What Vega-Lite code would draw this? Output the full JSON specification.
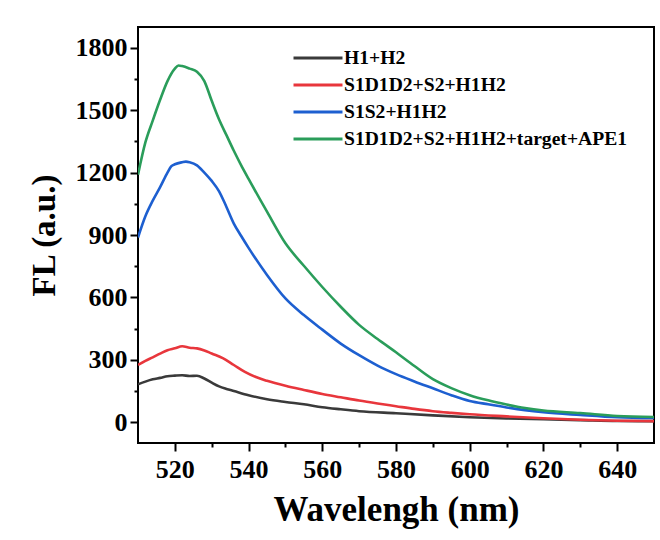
{
  "$schema": "https://vega.github.io/schema/vega-lite/v6.json",
  "autosize": "none",
  "width": 516,
  "height": 416,
  "padding": {"left": 138, "top": 27, "right": 6, "bottom": 97},
  "background": "white",
  "config": {
    "view": {"stroke": "black", "strokeWidth": 2},
    "font": "Liberation Serif"
  },
  "datasets": {
    "spectra": [
      {"series": "H1+H2", "wavelength": 510, "fl": 182},
      {"series": "H1+H2", "wavelength": 512, "fl": 195},
      {"series": "H1+H2", "wavelength": 514, "fl": 206},
      {"series": "H1+H2", "wavelength": 516, "fl": 213},
      {"series": "H1+H2", "wavelength": 518, "fl": 221},
      {"series": "H1+H2", "wavelength": 520, "fl": 224},
      {"series": "H1+H2", "wavelength": 522, "fl": 226},
      {"series": "H1+H2", "wavelength": 524, "fl": 222},
      {"series": "H1+H2", "wavelength": 526, "fl": 223},
      {"series": "H1+H2", "wavelength": 528, "fl": 210},
      {"series": "H1+H2", "wavelength": 530, "fl": 190},
      {"series": "H1+H2", "wavelength": 532, "fl": 172},
      {"series": "H1+H2", "wavelength": 534, "fl": 160},
      {"series": "H1+H2", "wavelength": 536, "fl": 150},
      {"series": "H1+H2", "wavelength": 540, "fl": 130},
      {"series": "H1+H2", "wavelength": 545, "fl": 110},
      {"series": "H1+H2", "wavelength": 550, "fl": 97},
      {"series": "H1+H2", "wavelength": 555, "fl": 86},
      {"series": "H1+H2", "wavelength": 560, "fl": 72},
      {"series": "H1+H2", "wavelength": 565, "fl": 62},
      {"series": "H1+H2", "wavelength": 570, "fl": 53},
      {"series": "H1+H2", "wavelength": 580, "fl": 43},
      {"series": "H1+H2", "wavelength": 590, "fl": 33},
      {"series": "H1+H2", "wavelength": 600, "fl": 24},
      {"series": "H1+H2", "wavelength": 610, "fl": 18},
      {"series": "H1+H2", "wavelength": 620, "fl": 14},
      {"series": "H1+H2", "wavelength": 630, "fl": 10},
      {"series": "H1+H2", "wavelength": 640, "fl": 6},
      {"series": "H1+H2", "wavelength": 650, "fl": 5},

      {"series": "S1D1D2+S2+H1H2", "wavelength": 510, "fl": 275},
      {"series": "S1D1D2+S2+H1H2", "wavelength": 512, "fl": 295},
      {"series": "S1D1D2+S2+H1H2", "wavelength": 514, "fl": 312},
      {"series": "S1D1D2+S2+H1H2", "wavelength": 516, "fl": 330},
      {"series": "S1D1D2+S2+H1H2", "wavelength": 518, "fl": 346},
      {"series": "S1D1D2+S2+H1H2", "wavelength": 520, "fl": 355},
      {"series": "S1D1D2+S2+H1H2", "wavelength": 522, "fl": 365},
      {"series": "S1D1D2+S2+H1H2", "wavelength": 524, "fl": 358},
      {"series": "S1D1D2+S2+H1H2", "wavelength": 526, "fl": 355},
      {"series": "S1D1D2+S2+H1H2", "wavelength": 528, "fl": 345},
      {"series": "S1D1D2+S2+H1H2", "wavelength": 530, "fl": 330},
      {"series": "S1D1D2+S2+H1H2", "wavelength": 533, "fl": 308},
      {"series": "S1D1D2+S2+H1H2", "wavelength": 536, "fl": 275},
      {"series": "S1D1D2+S2+H1H2", "wavelength": 539, "fl": 242},
      {"series": "S1D1D2+S2+H1H2", "wavelength": 542, "fl": 217},
      {"series": "S1D1D2+S2+H1H2", "wavelength": 545, "fl": 199},
      {"series": "S1D1D2+S2+H1H2", "wavelength": 550, "fl": 175},
      {"series": "S1D1D2+S2+H1H2", "wavelength": 555, "fl": 155},
      {"series": "S1D1D2+S2+H1H2", "wavelength": 560, "fl": 136},
      {"series": "S1D1D2+S2+H1H2", "wavelength": 565, "fl": 120},
      {"series": "S1D1D2+S2+H1H2", "wavelength": 570, "fl": 104},
      {"series": "S1D1D2+S2+H1H2", "wavelength": 575, "fl": 90},
      {"series": "S1D1D2+S2+H1H2", "wavelength": 580, "fl": 77},
      {"series": "S1D1D2+S2+H1H2", "wavelength": 585, "fl": 64},
      {"series": "S1D1D2+S2+H1H2", "wavelength": 590, "fl": 53},
      {"series": "S1D1D2+S2+H1H2", "wavelength": 595, "fl": 45},
      {"series": "S1D1D2+S2+H1H2", "wavelength": 600, "fl": 38},
      {"series": "S1D1D2+S2+H1H2", "wavelength": 610, "fl": 28},
      {"series": "S1D1D2+S2+H1H2", "wavelength": 620, "fl": 19},
      {"series": "S1D1D2+S2+H1H2", "wavelength": 630, "fl": 12},
      {"series": "S1D1D2+S2+H1H2", "wavelength": 640, "fl": 7},
      {"series": "S1D1D2+S2+H1H2", "wavelength": 650, "fl": 5},

      {"series": "S1S2+H1H2", "wavelength": 510, "fl": 888},
      {"series": "S1S2+H1H2", "wavelength": 512, "fl": 990},
      {"series": "S1S2+H1H2", "wavelength": 514, "fl": 1065},
      {"series": "S1S2+H1H2", "wavelength": 516, "fl": 1130},
      {"series": "S1S2+H1H2", "wavelength": 518, "fl": 1200},
      {"series": "S1S2+H1H2", "wavelength": 519, "fl": 1230},
      {"series": "S1S2+H1H2", "wavelength": 520, "fl": 1240},
      {"series": "S1S2+H1H2", "wavelength": 522, "fl": 1250},
      {"series": "S1S2+H1H2", "wavelength": 523, "fl": 1253},
      {"series": "S1S2+H1H2", "wavelength": 524, "fl": 1250},
      {"series": "S1S2+H1H2", "wavelength": 526, "fl": 1235},
      {"series": "S1S2+H1H2", "wavelength": 528, "fl": 1200},
      {"series": "S1S2+H1H2", "wavelength": 530, "fl": 1160},
      {"series": "S1S2+H1H2", "wavelength": 532, "fl": 1110},
      {"series": "S1S2+H1H2", "wavelength": 534, "fl": 1035},
      {"series": "S1S2+H1H2", "wavelength": 536, "fl": 955},
      {"series": "S1S2+H1H2", "wavelength": 538, "fl": 895},
      {"series": "S1S2+H1H2", "wavelength": 540, "fl": 838},
      {"series": "S1S2+H1H2", "wavelength": 545, "fl": 708},
      {"series": "S1S2+H1H2", "wavelength": 550, "fl": 595},
      {"series": "S1S2+H1H2", "wavelength": 555, "fl": 515},
      {"series": "S1S2+H1H2", "wavelength": 560, "fl": 445},
      {"series": "S1S2+H1H2", "wavelength": 565, "fl": 378},
      {"series": "S1S2+H1H2", "wavelength": 570, "fl": 322},
      {"series": "S1S2+H1H2", "wavelength": 575, "fl": 272},
      {"series": "S1S2+H1H2", "wavelength": 580, "fl": 231},
      {"series": "S1S2+H1H2", "wavelength": 585, "fl": 196},
      {"series": "S1S2+H1H2", "wavelength": 590, "fl": 163},
      {"series": "S1S2+H1H2", "wavelength": 595, "fl": 130},
      {"series": "S1S2+H1H2", "wavelength": 600, "fl": 102},
      {"series": "S1S2+H1H2", "wavelength": 605, "fl": 86},
      {"series": "S1S2+H1H2", "wavelength": 610, "fl": 71},
      {"series": "S1S2+H1H2", "wavelength": 615, "fl": 58},
      {"series": "S1S2+H1H2", "wavelength": 620, "fl": 48},
      {"series": "S1S2+H1H2", "wavelength": 630, "fl": 35},
      {"series": "S1S2+H1H2", "wavelength": 640, "fl": 24},
      {"series": "S1S2+H1H2", "wavelength": 650, "fl": 20},

      {"series": "S1D1D2+S2+H1H2+target+APE1", "wavelength": 510, "fl": 1190},
      {"series": "S1D1D2+S2+H1H2+target+APE1", "wavelength": 512, "fl": 1345},
      {"series": "S1D1D2+S2+H1H2+target+APE1", "wavelength": 514, "fl": 1450},
      {"series": "S1D1D2+S2+H1H2+target+APE1", "wavelength": 516, "fl": 1550},
      {"series": "S1D1D2+S2+H1H2+target+APE1", "wavelength": 518, "fl": 1640},
      {"series": "S1D1D2+S2+H1H2+target+APE1", "wavelength": 520, "fl": 1700},
      {"series": "S1D1D2+S2+H1H2+target+APE1", "wavelength": 521, "fl": 1715},
      {"series": "S1D1D2+S2+H1H2+target+APE1", "wavelength": 522, "fl": 1712},
      {"series": "S1D1D2+S2+H1H2+target+APE1", "wavelength": 524, "fl": 1700},
      {"series": "S1D1D2+S2+H1H2+target+APE1", "wavelength": 526, "fl": 1685},
      {"series": "S1D1D2+S2+H1H2+target+APE1", "wavelength": 528, "fl": 1640},
      {"series": "S1D1D2+S2+H1H2+target+APE1", "wavelength": 530, "fl": 1545},
      {"series": "S1D1D2+S2+H1H2+target+APE1", "wavelength": 532, "fl": 1455},
      {"series": "S1D1D2+S2+H1H2+target+APE1", "wavelength": 534, "fl": 1380},
      {"series": "S1D1D2+S2+H1H2+target+APE1", "wavelength": 536, "fl": 1305},
      {"series": "S1D1D2+S2+H1H2+target+APE1", "wavelength": 538, "fl": 1235},
      {"series": "S1D1D2+S2+H1H2+target+APE1", "wavelength": 540, "fl": 1170},
      {"series": "S1D1D2+S2+H1H2+target+APE1", "wavelength": 545, "fl": 1012},
      {"series": "S1D1D2+S2+H1H2+target+APE1", "wavelength": 550, "fl": 860},
      {"series": "S1D1D2+S2+H1H2+target+APE1", "wavelength": 555, "fl": 752},
      {"series": "S1D1D2+S2+H1H2+target+APE1", "wavelength": 560, "fl": 650},
      {"series": "S1D1D2+S2+H1H2+target+APE1", "wavelength": 565, "fl": 555},
      {"series": "S1D1D2+S2+H1H2+target+APE1", "wavelength": 570, "fl": 468},
      {"series": "S1D1D2+S2+H1H2+target+APE1", "wavelength": 575, "fl": 400},
      {"series": "S1D1D2+S2+H1H2+target+APE1", "wavelength": 580, "fl": 336},
      {"series": "S1D1D2+S2+H1H2+target+APE1", "wavelength": 585, "fl": 270},
      {"series": "S1D1D2+S2+H1H2+target+APE1", "wavelength": 590, "fl": 207},
      {"series": "S1D1D2+S2+H1H2+target+APE1", "wavelength": 595, "fl": 164},
      {"series": "S1D1D2+S2+H1H2+target+APE1", "wavelength": 600, "fl": 130},
      {"series": "S1D1D2+S2+H1H2+target+APE1", "wavelength": 605, "fl": 105},
      {"series": "S1D1D2+S2+H1H2+target+APE1", "wavelength": 610, "fl": 85},
      {"series": "S1D1D2+S2+H1H2+target+APE1", "wavelength": 615, "fl": 68},
      {"series": "S1D1D2+S2+H1H2+target+APE1", "wavelength": 620, "fl": 56},
      {"series": "S1D1D2+S2+H1H2+target+APE1", "wavelength": 630, "fl": 44},
      {"series": "S1D1D2+S2+H1H2+target+APE1", "wavelength": 640, "fl": 30},
      {"series": "S1D1D2+S2+H1H2+target+APE1", "wavelength": 650, "fl": 25}
    ]
  },
  "data": {"name": "spectra"},
  "mark": {"type": "line", "strokeWidth": 2.6, "clip": true, "interpolate": "monotone"},
  "encoding": {
    "x": {
      "field": "wavelength",
      "type": "quantitative",
      "scale": {"domain": [510, 650], "nice": false, "zero": false},
      "axis": {
        "title": "Wavelengh (nm)",
        "values": [520, 530, 540, 550, 560, 570, 580, 590, 600, 610, 620, 630, 640],
        "labelExpr": "datum.value % 20 == 0 ? datum.label : ''",
        "labelOverlap": false,
        "grid": false,
        "domain": false,
        "tickColor": "black",
        "tickWidth": 2,
        "tickSize": {"condition": {"test": "datum.value % 20 == 0", "value": 8}, "value": 4},
        "labelFont": "Liberation Serif",
        "labelFontWeight": "bold",
        "labelFontSize": 26,
        "labelColor": "black",
        "labelPadding": 5,
        "titleFont": "Liberation Serif",
        "titleFontWeight": "bold",
        "titleFontSize": 35,
        "titleColor": "black",
        "titlePadding": 10
      }
    },
    "y": {
      "field": "fl",
      "type": "quantitative",
      "scale": {"domain": [-100, 1900], "nice": false, "zero": false},
      "axis": {
        "title": "FL (a.u.)",
        "values": [0, 150, 300, 450, 600, 750, 900, 1050, 1200, 1350, 1500, 1650, 1800],
        "labelExpr": "datum.value % 300 == 0 ? datum.label : ''",
        "labelOverlap": false,
        "format": "d",
        "grid": false,
        "domain": false,
        "tickColor": "black",
        "tickWidth": 2,
        "tickSize": {"condition": {"test": "datum.value % 300 == 0", "value": 8}, "value": 4},
        "labelFont": "Liberation Serif",
        "labelFontWeight": "bold",
        "labelFontSize": 26,
        "labelColor": "black",
        "labelPadding": 3,
        "titleFont": "Liberation Serif",
        "titleFontWeight": "bold",
        "titleFontSize": 33,
        "titleColor": "black",
        "titlePadding": 14
      }
    },
    "color": {
      "field": "series",
      "type": "nominal",
      "scale": {
        "domain": ["H1+H2", "S1D1D2+S2+H1H2", "S1S2+H1H2", "S1D1D2+S2+H1H2+target+APE1"],
        "range": ["#3a3a3a", "#e8363c", "#1d5fd0", "#2a9d5a"]
      },
      "legend": {
        "title": null,
        "orient": "none",
        "legendX": 166,
        "legendY": 17,
        "symbolType": "M-2,0H2",
        "symbolSize": 600,
        "symbolStrokeWidth": 3,
        "labelFont": "Liberation Serif",
        "labelFontWeight": "bold",
        "labelFontSize": 19.6,
        "labelColor": "black",
        "labelOffset": 12,
        "labelLimit": 400,
        "rowPadding": 3
      }
    }
  }
}
